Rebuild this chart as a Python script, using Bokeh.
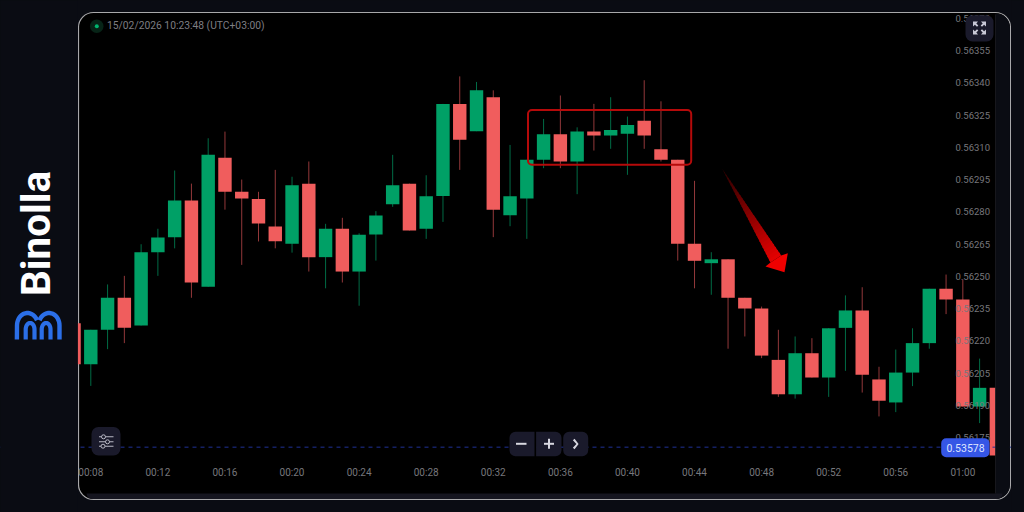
import math
from bokeh.plotting import figure
from bokeh.models import (ColumnDataSource, Range1d, LinearAxis, FixedTicker, PrintfTickFormatter,
                          BoxAnnotation, PolyAnnotation, Label, Span)
from bokeh.embed import file_html
from bokeh.resources import INLINE

seconds = list(range(7, 63))
opens = [.562282,.562091,.562251,.562400,.562271,.562612,.562682,.562852,.562451,.563052,.562893,.562860,.562731,.562651,
         .562931,.562589,.562721,.562522,.562694,.562835,.562931,.562721,.562874,.563302,.563175,.563333,.562784,.562862,
         .563042,.563161,.563034,.563173,.563155,.563163,.563224,.563091,.563042,.562651,.562561,.562579,.562400,.562350,
         .562111,.561951,.562142,.562029,.562260,.562341,.562020,.561913,.562052,.562189,.562442,.562392,.561894,.561981]
closes = [.562091,.562251,.562400,.562260,.562612,.562680,.562852,.562471,.563065,.562893,.562862,.562745,.562663,.562924,
          .562589,.562721,.562522,.562693,.562783,.562924,.562713,.562872,.563302,.563135,.563365,.562810,.562872,.563042,
          .563161,.563034,.563173,.563155,.563181,.563204,.563155,.563042,.562651,.562572,.562579,.562400,.562350,.562131,
          .561951,.562142,.562029,.562258,.562341,.562042,.561921,.562052,.562189,.562442,.562392,.561894,.561981,.561666]
highs = [.562282,.562251,.562462,.562502,.562649,.562721,.562992,.562931,.563142,.563173,.562950,.562893,.562995,.562963,
         .563034,.562744,.562772,.562700,.562803,.563065,.562931,.562970,.563302,.563430,.563404,.563365,.563111,.563042,
         .563232,.563341,.563193,.563302,.563333,.563243,.563412,.563314,.563042,.562944,.562612,.562579,.562400,.562359,
         .562251,.562220,.562212,.562258,.562411,.562449,.562079,.562159,.562258,.562442,.562508,.562486,.562117,.561981]
lows = [.562091,.561990,.562161,.562189,.562271,.562502,.562630,.562400,.562451,.562810,.562553,.562662,.562630,.562610,
        .562522,.562444,.562471,.562363,.562573,.562823,.562713,.562674,.562753,.562995,.563175,.562682,.562733,.562674,
        .563003,.563003,.562882,.563085,.563093,.562972,.563093,.563034,.562573,.562444,.562414,.562163,.562220,.562119,
        .561939,.561931,.562029,.561939,.562060,.561959,.561848,.561868,.561989,.562163,.562324,.561894,.561817,.561666]
price_ticks = [.56370,.56355,.56340,.56325,.56310,.56295,.56280,.56265,.56250,.56235,.56220,.56205,.56190,.56175]
time_ticks = [8,12,16,20,24,28,32,36,40,44,48,52,56,60]
time_labels = ["00:08","00:12","00:16","00:20","00:24","00:28","00:32","00:36","00:40","00:44","00:48","00:52","00:56","01:00"]
current_price_label = "0.53578"
current_line_level = 0.561705
timestamp = "15/02/2026  10:23:48  (UTC+03:00)"
brand = "Binolla"

GREEN, RED = "#00a066", "#f05d5d"
GREEN_W, RED_W = "#006b45", "#93383a"
BG, BTN = "#0a0c13", "#1a1a2b"

p = figure(width=1024, height=512, frame_width=1024, frame_height=512,
           min_border=0,
           x_range=Range1d(2.615, 63.677), y_range=Range1d(0.561401, 0.563783),
           x_axis_type=None, y_axis_type=None,
           toolbar_location=None, output_backend="svg", tools="")
p.grid.visible = False
p.outline_line_color = None
p.background_fill_color = BG
p.border_fill_color = BG


def box(l, t, r, b, fill=None, line=None, lw=1.0, radius=0, level="annotation"):
    a = BoxAnnotation(left=l, right=r, top=t, bottom=b,
                      left_units="canvas", right_units="canvas", top_units="canvas", bottom_units="canvas",
                      fill_color=fill, fill_alpha=1 if fill else 0, line_color=line, line_width=lw,
                      line_alpha=1 if line else 0, border_radius=radius, level=level, editable=False)
    p.add_layout(a)
    return a


def poly(pts, fill, level="annotation"):
    a = PolyAnnotation(xs=[x for x, _ in pts], ys=[y for _, y in pts],
                       xs_units="canvas", ys_units="canvas", fill_color=fill, fill_alpha=1,
                       line_color=None, level=level, editable=False)
    p.add_layout(a)


def stroke(path, w, fill, level="annotation"):
    left, right = [], []
    for i, (x, y) in enumerate(path):
        x0, y0 = path[max(i - 1, 0)]
        x1, y1 = path[min(i + 1, len(path) - 1)]
        dx, dy = x1 - x0, y1 - y0
        n = math.hypot(dx, dy) or 1
        ox, oy = -dy / n * w / 2, dx / n * w / 2
        left.append((x + ox, y + oy))
        right.append((x - ox, y - oy))
    poly(left + right[::-1], fill, level)


def text(x, y, s, size, color, align="left", angle=0.0, style="normal", font="Roboto", level="annotation"):
    p.add_layout(Label(x=x, y=y, x_units="canvas", y_units="canvas", text=s, text_font=font,
                       text_font_size=f"{size}px", text_color=color, text_align=align, text_baseline="middle",
                       angle=angle, text_font_style=style, level=level))


# chart panel: rounded border and black chart area under the candles
box(78, 12, 1010, 499, fill="#000000", line="#a8a8aa", lw=1.2, radius=15, level="underlay")

# candles
ups = [c >= o for o, c in zip(opens, closes)]
src = ColumnDataSource(dict(
    x=seconds, o=opens, c=closes, h=highs, l=lows,
    body=[GREEN if u else RED for u in ups],
    wick=[GREEN_W if u else RED_W for u in ups],
))
p.segment("x", "h", "x", "l", source=src, line_color="wick", line_width=1)
p.vbar(x="x", width=0.8, top="o", bottom="c", source=src, fill_color="body", line_color=None)

# axes, with labels pulled inside the chart area
xaxis = LinearAxis(ticker=FixedTicker(ticks=time_ticks),
                   major_label_overrides={t: l for t, l in zip(time_ticks, time_labels)},
                   major_label_standoff=-52, major_label_text_color="#77777c", major_label_text_font="Roboto",
                   major_label_text_font_size="10px", axis_line_color=None, major_tick_line_color=None,
                   minor_tick_line_color=None)
yaxis = LinearAxis(ticker=FixedTicker(ticks=price_ticks), formatter=PrintfTickFormatter(format="%.5f"),
                   major_label_standoff=-75, major_label_text_color="#77777c", major_label_text_font="Roboto",
                   major_label_text_font_size="9.5px", axis_line_color=None, major_tick_line_color=None,
                   minor_tick_line_color=None)
p.add_layout(xaxis, "below")
p.add_layout(yaxis, "right")

# current price line
p.add_layout(Span(location=current_line_level, dimension="width", line_color="#1f3196", line_width=1, line_dash="4 4"))

# masks that clip the candles at the chart edges, with the strips around the chart
box(0, 0, 77.4, 512, fill=BG)
box(995, 13, 1009.4, 498.4, fill=BG, radius=(0, 14, 14, 0))
box(1010.6, 0, 1024, 512, fill=BG)
box(86, 493, 1002, 498.4, fill="#15151f", radius=(0, 0, 6, 6))
box(994.6, 14, 995.4, 493, fill="#1c1c22")

# status
box(89.5, 19, 103, 32.5, fill="#072417", radius=7)
box(94.3, 23.7, 98.3, 27.7, fill="#00b56e", radius=2)
text(106.5, 25, timestamp, 10.3, "#7e7e83")

# highlight rectangle
box(527.5, 109.5, 690.7, 164.3, line="#b50a0a", lw=2, radius=4)

# gradient arrow
tail = (721.7, 168.3)
nl, nr = (770.0, 262.0), (780.7, 255.0)
N = 30
for i in range(N):
    t0, t1 = i / N, min((i + 1.4) / N, 1.0)
    lerp = lambda a, t: (tail[0] + (a[0] - tail[0]) * t, tail[1] + (a[1] - tail[1]) * t)
    v = (i + 0.5) / N
    col = "#%02x0000" % int(40 + 190 * v)
    poly([lerp(nl, t0), lerp(nr, t0), lerp(nr, t1), lerp(nl, t1)], col)
poly([(765, 266), nl, nr, (787.3, 252.7), (784, 271.7)], "#f00000")

# logo
text(35.5, 233, brand, 40.5, "#ffffff", align="center", angle=math.pi / 2, style="bold")
BLUE = "#2b6fe8"
def arc(cx, cy, rx, ry, a0, a1, n=18):
    return [(cx + rx * math.cos(math.radians(a0 + (a1 - a0) * i / n)),
             cy - ry * math.sin(math.radians(a0 + (a1 - a0) * i / n))) for i in range(n + 1)]
stroke([(16.4, 339)] + arc(27, 325, 10.5, 12.5, 180, 25), 4.4, BLUE)
stroke(arc(48.5, 325, 10.5, 12.5, 155, 0) + [(59, 339)], 4.4, BLUE)
stroke([(25.2, 339)] + arc(29.6, 329, 4.4, 6.5, 180, 0) + [(34, 339)], 4.2, BLUE)
stroke([(41.2, 339)] + arc(45.6, 329, 4.4, 6.5, 180, 0) + [(50, 339)], 4.2, BLUE)

# settings button
ICON = "#b8b8c4"
box(91, 426.5, 120, 455, fill=BTN, radius=7, level="overlay")
for yy, cx in [(436.3, 103), (441.3, 107), (445.7, 102.5)]:
    box(98.5, yy - 0.5, 113, yy + 0.5, fill=ICON, level="overlay")
    box(cx - 2, yy - 2, cx + 2, yy + 2, fill=BTN, line=ICON, lw=1, radius=2, level="overlay")

# zoom buttons
box(509, 431.3, 534, 455.7, fill=BTN, radius=(6, 0, 0, 6), level="overlay")
box(535.6, 431.3, 561, 455.7, fill=BTN, radius=(0, 6, 6, 0), level="overlay")
box(562.7, 431.3, 587.7, 455.7, fill=BTN, radius=6, level="overlay")
box(515.5, 442.3, 526, 444.3, fill="#d8d8e0", level="overlay")
box(543.5, 442.3, 553.5, 444.3, fill="#d8d8e0", level="overlay")
box(547.5, 438.3, 549.5, 448.3, fill="#d8d8e0", level="overlay")
stroke([(573.2, 439), (577, 443.5), (573.2, 448)], 2.2, "#d8d8e0", level="overlay")

# expand button
box(965, 14.7, 993, 41, fill=BTN, radius=7, level="overlay")
for sx, sy in [(-1, -1), (1, -1), (-1, 1), (1, 1)]:
    cx, cy = 979, 27.5
    poly([(cx + sx * 6.5, cy + sy * 6.5), (cx + sx * 1.5, cy + sy * 6.5), (cx + sx * 3.2, cy + sy * 4.6),
          (cx + sx * 1.2, cy + sy * 2.5), (cx + sx * 2.5, cy + sy * 1.2), (cx + sx * 4.6, cy + sy * 3.2),
          (cx + sx * 6.5, cy + sy * 1.5)], "#c8c8d6", level="overlay")

# current price badge
box(940.7, 437.7, 989, 456.7, fill="#3556e6", radius=5, level="overlay")
text(965, 447.5, current_price_label, 10.5, "#dfe5ff", align="center", level="overlay")

html = file_html(p, INLINE)
html = html.replace("<head>", f"<head><style>html,body{{background:{BG};overflow:hidden}}</style>", 1)
open("out.html", "w").write(html)
